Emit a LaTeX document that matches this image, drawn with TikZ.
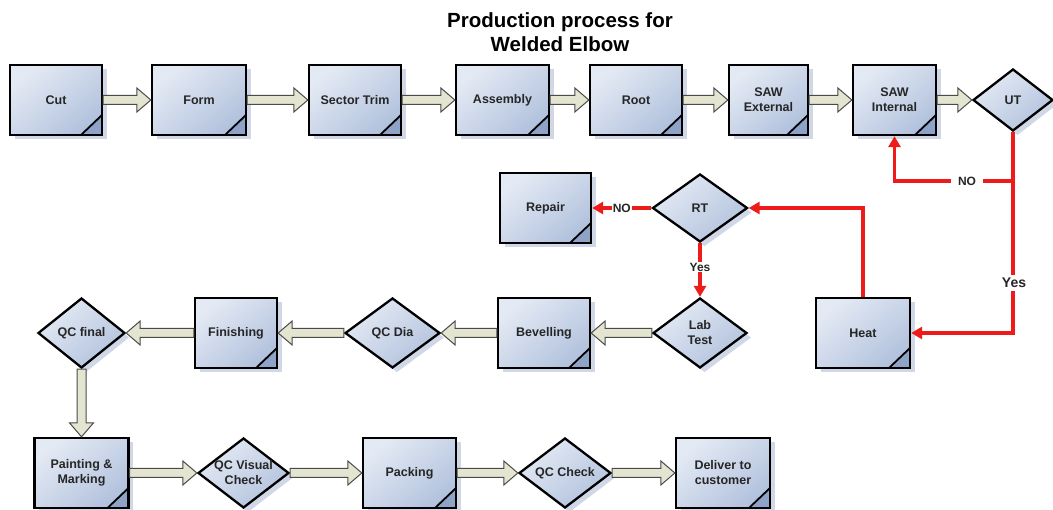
\documentclass[tikz,border=0pt]{standalone}
\usepackage{fontspec}
\setmainfont{Liberation Sans}
\usetikzlibrary{shapes.geometric,arrows.meta,shadows,calc}

\definecolor{boxlight}{HTML}{E4EAF4}
\definecolor{boxdark}{HTML}{B2C2DD}
\definecolor{folddark}{HTML}{8FA3C8}
\definecolor{shadowblue}{HTML}{C4CEE2}
\definecolor{arrowfill}{HTML}{E3E5D0}
\definecolor{arrowline}{HTML}{4A4A4A}
\definecolor{flowred}{HTML}{EE1B1B}
\definecolor{textgray}{HTML}{262626}

\tikzset{
  labelfont/.style={font=\bfseries\fontsize{12.5}{15}\selectfont, text=textgray, align=center},
  shape base/.style={draw=black, line width=2.3pt, inner sep=0pt,
    top color=boxlight, bottom color=boxdark, shading angle=40,
    drop shadow={shadow xshift=4.5pt, shadow yshift=-4.5pt, fill=shadowblue, opacity=0.8}},
  procbox/.style={shape base, rectangle, labelfont, minimum height=70pt,
    path picture={
      \fill[folddark] ([xshift=-21pt]path picture bounding box.south east)
        -- ([yshift=20pt]path picture bounding box.south east)
        -- (path picture bounding box.south east) -- cycle;
      \draw[line width=1.8pt] ([xshift=-21pt]path picture bounding box.south east)
        -- ([yshift=20pt]path picture bounding box.south east);
    }},
  decision/.style={shape base, diamond, minimum height=70pt},
  dtext/.style={labelfont},
  blockarr/.style={draw=arrowline, fill=arrowfill, line width=1pt, line join=miter},
  redflow/.style={draw=flowred, line width=3.4pt, -{Triangle[length=11pt,width=12pt]}},
  flowlbl/.style={font=\bfseries\fontsize{12}{14}\selectfont, text=textgray, fill=white, inner sep=1pt},
}

% wide outlined arrow from one anchor to another, any direction
\newcommand\blockarrow[2]{%
  \path[blockarr] let \p1=(#1), \p2=(#2),
      \n1={veclen(\x2-\x1,\y2-\y1)}, \n2={atan2(\y2-\y1,\x2-\x1)} in
    [shift={(\p1)}, rotate=\n2]
    (0pt,4.5pt) -- ({\n1*1pt-14pt},4.5pt) -- ({\n1*1pt-14pt},12pt)
    -- ({\n1*1pt},0pt) -- ({\n1*1pt-14pt},-12pt) -- ({\n1*1pt-14pt},-4.5pt)
    -- (0pt,-4.5pt) -- cycle;}

\begin{document}
\begin{tikzpicture}[x=1pt,y=-1pt]
\useasboundingbox (0,0) rectangle (1053,510);

% title
\node[font=\bfseries\fontsize{20.5}{24}\selectfont, text=black, align=center] (title)
  at (560,32) {Production process for\\Welded Elbow};

% first row
\node[procbox, minimum width=92pt] (cut)      at (56,100)  {Cut};
\node[procbox, minimum width=94pt] (form)     at (199,100) {Form};
\node[procbox, minimum width=92pt] (trim)     at (355,100) {Sector Trim};
\node[procbox, minimum width=93pt] (assembly) at (502.5,100) {Assembly};
\node[procbox, minimum width=92pt] (root)     at (636,100) {Root};
\node[procbox, minimum width=79pt] (sawext)   at (768.5,100) {SAW\\External};
\node[procbox, minimum width=83pt] (sawint)   at (894.5,100) {SAW\\Internal};
\node[decision, minimum width=80pt, minimum height=62pt, label={[dtext]center:UT}] (ut) at (1013,100) {};

% inspection and repair
\node[procbox, minimum width=91pt] (repair) at (545.5,208) {Repair};
\node[decision, minimum width=95pt, minimum height=68pt, label={[dtext]center:RT}] (rt) at (700,208) {};
\node[procbox, minimum width=94pt] (heat) at (863,333) {Heat};

% second row
\node[decision, minimum width=94pt, label={[dtext]center:Lab\\Test}] (lab) at (700,333) {};
\node[procbox, minimum width=92pt] (bevel)  at (544,333) {Bevelling};
\node[decision, minimum width=95pt, label={[dtext]center:QC Dia}] (qcdia) at (392.5,333) {};
\node[procbox, minimum width=82pt] (finish) at (236,333) {Finishing};
\node[decision, minimum width=87pt, label={[dtext]center:QC final}] (qcfinal) at (81.5,333) {};

% third row
\node[procbox, minimum width=94pt] (paint)   at (81.5,473)  {Painting \&\\Marking};
\node[decision, minimum width=91pt, label={[dtext]center:QC Visual\\Check}] (qcvis) at (243.5,473) {};
\node[procbox, minimum width=93pt] (pack)    at (409.5,473) {Packing};
\node[decision, minimum width=92pt, label={[dtext]center:QC Check}] (qccheck) at (565,473) {};
\node[procbox, minimum width=94pt] (deliver) at (723,473) {Deliver to\\customer};

% main flow
\blockarrow{cut.east}{form.west}
\blockarrow{form.east}{trim.west}
\blockarrow{trim.east}{assembly.west}
\blockarrow{assembly.east}{root.west}
\blockarrow{root.east}{sawext.west}
\blockarrow{sawext.east}{sawint.west}
\blockarrow{sawint.east}{ut.west}
\blockarrow{lab.west}{bevel.east}
\blockarrow{bevel.west}{qcdia.east}
\blockarrow{qcdia.west}{finish.east}
\blockarrow{finish.west}{qcfinal.east}
\blockarrow{qcfinal.south}{paint.north}
\blockarrow{paint.east}{qcvis.west}
\blockarrow{qcvis.east}{pack.west}
\blockarrow{pack.east}{qccheck.west}
\blockarrow{qccheck.east}{deliver.west}

% decision branches
\coordinate (nolevel) at (0,181);
\coordinate (split) at (ut.south |- nolevel);
\draw[redflow] (ut.south) |- (heat.east);
\draw[redflow] (split) -| (sawint.south);
\node[flowlbl, inner xsep=7pt] (utno) at (967,181) {NO};
\node[flowlbl, font=\bfseries\fontsize{14}{16}\selectfont, inner ysep=3pt] (utyes) at (1014,283) {Yes};
\draw[redflow] (heat.north) |- (rt.east);
\draw[redflow] (rt.west) -- (repair.east) node[flowlbl, pos=0.5] (rtno) {NO};
\draw[redflow] (rt.south) -- (lab.north) node[flowlbl, pos=0.45] (rtyes) {Yes};
\end{tikzpicture}
\end{document}
